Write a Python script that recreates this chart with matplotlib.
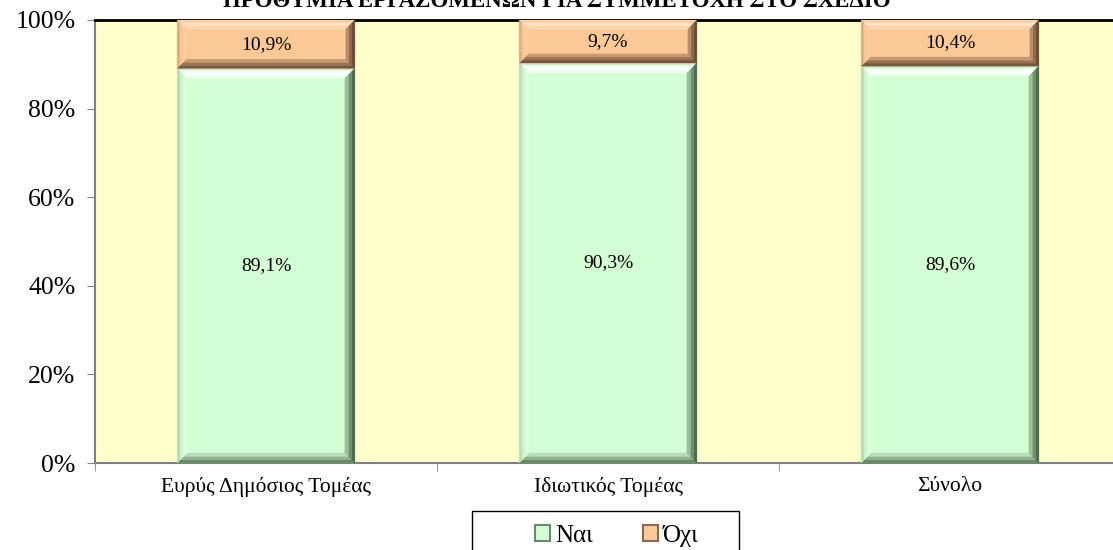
import matplotlib
matplotlib.use("Agg")
from matplotlib import pyplot as plt
from matplotlib.patches import Polygon, Rectangle

plt.rcParams["font.family"] = ["Liberation Serif", "DejaVu Serif"]

title = "ΠΡΟΘΥΜΙΑ ΕΡΓΑΖΟΜΕΝΩΝ ΓΙΑ ΣΥΜΜΕΤΟΧΗ ΣΤΟ ΣΧΕΔΙΟ"
categories = ["Ευρύς Δημόσιος Τομέας", "Ιδιωτικός Τομέας", "Σύνολο"]
nai = [89.1, 90.3, 89.6]
ochi = [10.9, 9.7, 10.4]
series_names = ["Ναι", "Όχι"]
yticks = [0, 20, 40, 60, 80, 100]

# bevel colours, outer edge -> inner face
green = {
    "face": "#d3fdd3",
    "top": ["#c8ecc8", "#f4fff4", "#ffffff", "#eaffea"],
    "left": ["#b8e0b8", "#d0f4d0", "#dcffdc"],
    "right": ["#4c6a4c", "#6f8f6f", "#9cbf9c"],
    "bottom": ["#6a8a6a", "#90b090", "#b8dcb8"],
}
orange = {
    "face": "#fbc998",
    "top": ["#f8d0a8", "#ffe2c4", "#ffd6ae"],
    "left": ["#e0b080", "#f8c898", "#fccc9c"],
    "right": ["#6a4c36", "#8a684c", "#b88c66"],
    "bottom": ["#76563c", "#987456", "#c49870"],
}

fig = plt.figure(figsize=(11.13, 5.5), dpi=100)
ax = fig.add_axes([95 / 1113, 87 / 550, 1026 / 1113, 443 / 550])
ax.set_facecolor("#ffffcc")
ax.set_xlim(-0.5, 2.5)
ax.set_ylim(0, 100)

bar_w = 0.52
x = list(range(len(categories)))
# data units per pixel, for the bevel edges
px_x = 3 / 1026
px_y = 100 / 443


def strip(side, x0, y0, x1, y1, a, b, col):
    ax0, ay0, bx0, by0 = a * px_x, a * px_y, b * px_x, b * px_y
    if side == "top":
        pts = [(x0 + ax0, y1 - ay0), (x1 - ax0, y1 - ay0), (x1 - bx0, y1 - by0), (x0 + bx0, y1 - by0)]
    elif side == "bottom":
        pts = [(x0 + ax0, y0 + ay0), (x1 - ax0, y0 + ay0), (x1 - bx0, y0 + by0), (x0 + bx0, y0 + by0)]
    elif side == "left":
        pts = [(x0 + ax0, y0 + ay0), (x0 + ax0, y1 - ay0), (x0 + bx0, y1 - by0), (x0 + bx0, y0 + by0)]
    else:
        pts = [(x1 - ax0, y0 + ay0), (x1 - ax0, y1 - ay0), (x1 - bx0, y1 - by0), (x1 - bx0, y0 + by0)]
    ax.add_patch(Polygon(pts, closed=True, fc=col, ec=col, lw=0.3, zorder=3))


def bevel(x0, y0, x1, y1, cols, size=9):
    for side in ["top", "bottom", "left", "right"]:
        steps = cols[side]
        k = len(steps)
        for j, col in enumerate(steps):
            strip(side, x0, y0, x1, y1, size * j / k, size * (j + 1) / k, col)


b1 = ax.bar(x, nai, width=bar_w, color=green["face"], label=series_names[0], zorder=1)
b2 = ax.bar(x, ochi, width=bar_w, bottom=nai, color=orange["face"], label=series_names[1], zorder=1)

for xi, n, o in zip(x, nai, ochi):
    x0, x1 = xi - bar_w / 2, xi + bar_w / 2
    bevel(x0, 0, x1, n, green, size=10)
    bevel(x0, n, x1, n + o, orange, size=9)
    ax.text(xi, n / 2, f"{n:.1f}%".replace(".", ","), ha="center", va="center",
            fontsize=14, zorder=5)
    ax.text(xi, n + o / 2, f"{o:.1f}%".replace(".", ","), ha="center", va="center",
            fontsize=14, zorder=5)

ax.set_yticks(yticks)
ax.set_yticklabels([f"{v}%" for v in yticks], fontsize=18.5)
ax.set_xticks(x)
ax.set_xticklabels(categories, fontsize=15.5)
ax.tick_params(axis="y", direction="out", length=6, color="#808080", pad=8)
ax.tick_params(axis="x", length=0, pad=10)
ax.set_xticks([-0.5, 0.5, 1.5, 2.5], minor=True)
ax.tick_params(axis="x", which="minor", direction="out", length=6, color="#808080")

for s in ["left", "bottom"]:
    ax.spines[s].set_color("#808080")
    ax.spines[s].set_linewidth(1.5)
ax.spines["top"].set_color("black")
ax.spines["top"].set_linewidth(2)
ax.spines["right"].set_visible(False)

fig.text(0.5, 1 - 7 / 550, title, ha="center", va="baseline", fontsize=16.5,
         fontweight="bold")

# legend frame, runs off the bottom edge like the reference
fig.patches.append(Rectangle((472 / 1113, -0.05), 267 / 1113, 0.05 + 39 / 550,
                             transform=fig.transFigure, fill=False, ec="black", lw=1))
leg = fig.legend(handles=[b1, b2], loc="center", bbox_to_anchor=(617 / 1113, 1 - 536 / 550),
                 bbox_transform=fig.transFigure, ncol=2, frameon=False, fontsize=18,
                 handlelength=0.6, handleheight=0.6, handletextpad=0.2,
                 columnspacing=2.0, borderpad=0)
for h, ec in zip(leg.legend_handles, ["#6a8a6a", "#8c6a4d"]):
    h.set_edgecolor(ec)
    h.set_linewidth(1.5)

fig.savefig("out.png", dpi=100)
